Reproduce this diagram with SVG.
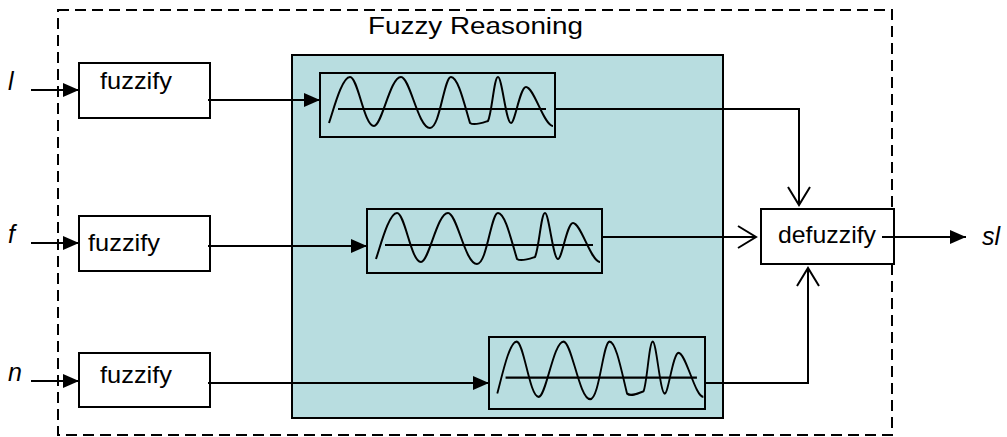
<svg xmlns="http://www.w3.org/2000/svg" width="1007" height="437" viewBox="0 0 1007 437">
<style>
.box{fill:#ffffff;stroke:#000;stroke-width:2}
.mf{fill:none;stroke:#000;stroke-width:2}
.wave{fill:none;stroke:#000;stroke-width:2;stroke-linejoin:round}
.lbl{font-family:"Liberation Sans",Arial,sans-serif;font-size:24px;fill:#000}
.it{font-style:italic;font-size:25px}
.conn{fill:none;stroke:#000;stroke-width:2}
</style>
<defs>
<marker id="fa" markerUnits="userSpaceOnUse" markerWidth="18" markerHeight="16" refX="16" refY="7" orient="auto" viewBox="0 0 18 16">
<path d="M0,0 L16,7 L0,14 z" fill="#000"/>
</marker>
<marker id="oa" markerUnits="userSpaceOnUse" markerWidth="24" markerHeight="26" refX="20" refY="12" orient="auto" viewBox="0 0 24 26">
<path d="M2,1 L20,12 L2,23" fill="none" stroke="#000" stroke-width="2"/>
</marker>
<g id="wave">
<path class="wave" d="M9,50 C14,35 22,4 30,4 C38,4 44,53 54,53 C62,53 70,4 81,4 C90,4 98,55 110,55 C120,55 124,4 131,4 C138,4 144,30 150,50 C154,53 162,50 168,48 C172,40 174,4 178,4 C182,4 186,50 191,50 C195,50 200,14 206,14 C214,14 224,53 233,53"/>
<path class="wave" d="M18,36 H226"/>
</g>
</defs>
<rect id="frame" x="58" y="10" width="834" height="425" fill="none" stroke="#000" stroke-width="2" stroke-dasharray="11 6"/>
<text class="lbl" x="368" y="34" textLength="215" lengthAdjust="spacingAndGlyphs">Fuzzy Reasoning</text>
<g id="reasoning">
<rect x="292" y="55" width="431" height="363" fill="#b8dde0" stroke="#000" stroke-width="2"/>
</g>
<g id="fuzzify1">
<rect class="box" x="79" y="63" width="131" height="55"/>
<text class="lbl" x="100" y="89" textLength="72" lengthAdjust="spacingAndGlyphs">fuzzify</text>
</g>
<g id="fuzzify2">
<rect class="box" x="79" y="216" width="131" height="55"/>
<text class="lbl" x="88" y="251" textLength="72" lengthAdjust="spacingAndGlyphs">fuzzify</text>
</g>
<g id="fuzzify3">
<rect class="box" x="79" y="353" width="131" height="54"/>
<text class="lbl" x="100" y="383" textLength="72" lengthAdjust="spacingAndGlyphs">fuzzify</text>
</g>
<g id="mf1">
<rect class="mf" x="320" y="73" width="235" height="64"/>
<use href="#wave" transform="translate(320,73)"/>
</g>
<g id="mf2">
<rect class="mf" x="367" y="209" width="235" height="64"/>
<use href="#wave" transform="translate(367,209)"/>
</g>
<g id="mf3">
<rect class="mf" x="489" y="337" width="216" height="72"/>
<use href="#wave" transform="translate(489,337) scale(0.92,1.13)"/>
</g>
<g id="defuzzify">
<rect class="box" x="761" y="209" width="133" height="55"/>
<text class="lbl" x="778" y="243" textLength="98" lengthAdjust="spacingAndGlyphs">defuzzify</text>
</g>
<g id="labels">
<text class="lbl it" x="8" y="90">l</text>
<text class="lbl it" x="8" y="243">f</text>
<text class="lbl it" x="8" y="381">n</text>
<text class="lbl it" x="982" y="245">sl</text>
</g>
<g id="connectors">
<path class="conn" d="M31,90 H79" marker-end="url(#fa)"/>
<path class="conn" d="M31,243 H79" marker-end="url(#fa)"/>
<path class="conn" d="M31,381 H79" marker-end="url(#fa)"/>
<path class="conn" d="M208,100 H320" marker-end="url(#fa)"/>
<path class="conn" d="M208,246 H367" marker-end="url(#fa)"/>
<path class="conn" d="M208,383 H489" marker-end="url(#fa)"/>
<path class="conn" d="M555,109 H799 V205" marker-end="url(#oa)"/>
<path class="conn" d="M602,237 H756" marker-end="url(#oa)"/>
<path class="conn" d="M705,383 H808 V268" marker-end="url(#oa)"/>
<path class="conn" d="M882,237 H966" marker-end="url(#fa)"/>
</g>
</svg>
